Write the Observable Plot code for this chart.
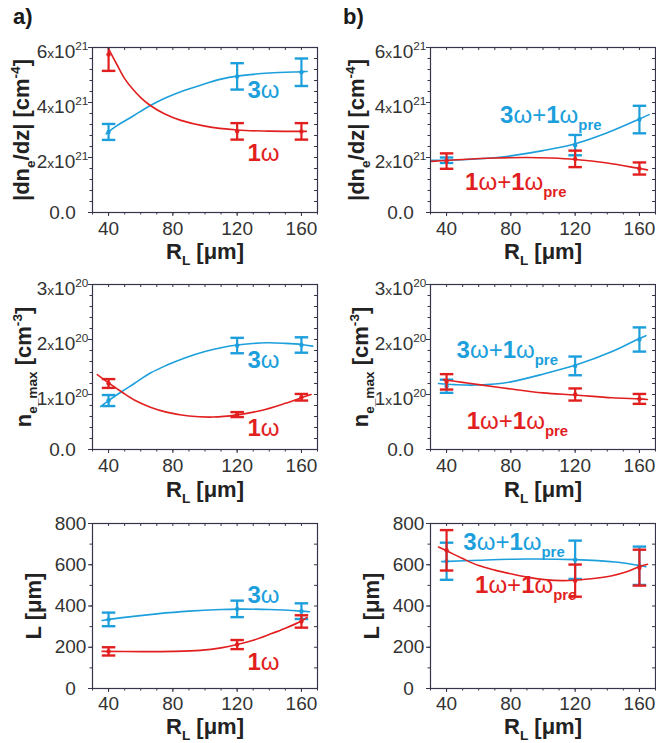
<!DOCTYPE html>
<html><head><meta charset="utf-8">
<script src="https://cdn.jsdelivr.net/npm/d3@7"></script>
<script src="https://cdn.jsdelivr.net/npm/@observablehq/plot@0.6"></script>
<style>
body{margin:0;background:#fff;font-family:"Liberation Sans",Arial,sans-serif;}
#wrap{position:relative;width:656px;height:743px;overflow:hidden;background:#fff;}
.panel{position:absolute;}
.tag{position:absolute;font:bold 22px "Liberation Sans",Arial,sans-serif;line-height:22px;color:#1a1a1a;}
</style></head><body><div id="wrap"><div class="tag" style="left:13px;top:6px">a)</div><div class="tag" style="left:343px;top:6px">b)</div></div>
<script>
// ---------------- DATA ----------------
const R = [40, 120, 160];            // laser spot radius R_L [µm]
const xMajor = [40, 80, 120, 160];
const xLabels = ["40", "80", "120", "160"];

// Row 1: |dn_e/dz| in units of 1e21 cm^-4
const yMajor1 = [0, 2, 4, 6];
const yLabels1 = ["0.0", "2.{x}10^{21}", "4.{x}10^{21}", "6.{x}10^{21}"];
const dndz_1w = [5.75, 2.95, 2.95], dndz_1w_err = [0.6, 0.3, 0.3];
const dndz_3w = [2.93, 4.95, 5.10], dndz_3w_err = [0.29, 0.48, 0.5];
const dndz_1wp = [1.87, 1.95, 1.60], dndz_1wp_err = [0.28, 0.3, 0.22];
const dndz_3wp = [1.90, 2.45, 3.38], dndz_3wp_err = [0.1, 0.37, 0.5];
const fit_dndz_1w = [[40,5.95],[45,5.4],[50,4.87],[55,4.49],[60,4.18],[66,3.89],[75,3.58],[85,3.35],[100,3.14],[120,3.0],[140,2.96],[163,2.95]];
const fit_dndz_3w = [[38.5,2.86],[45,3.15],[55,3.5],[66,3.89],[76,4.18],[87,4.44],[100,4.68],[110,4.85],[120,4.96],[140,5.07],[160,5.12],[163.5,5.13]];
const fit_dndz_1wp = [[30.7,1.86],[50,1.93],[70,1.98],[90,2.0],[105,1.98],[120,1.93],[140,1.8],[160,1.6],[165,1.55]];
const fit_dndz_3wp = [[30.7,1.9],[50,1.92],[70,1.99],[80,2.06],[100,2.25],[120,2.5],[140,2.9],[160,3.4],[166,3.56]];

// Row 2: n_e_max in units of 1e20 cm^-3
const yMajor2 = [0, 1, 2, 3];
const yLabels2 = ["0.0", "1.{x}10^{20}", "2.{x}10^{20}", "3.{x}10^{20}"];
const ne_1w = [1.20, 0.635, 0.95], ne_1w_err = [0.08, 0.045, 0.06];
const ne_3w = [0.89, 1.89, 1.90], ne_3w_err = [0.1, 0.14, 0.14];
const ne_1wp = [1.23, 1.00, 0.92], ne_1wp_err = [0.14, 0.11, 0.09];
const ne_3wp = [1.15, 1.52, 2.00], ne_3wp_err = [0.12, 0.17, 0.22];
const fit_ne_1w = [[33,1.36],[40,1.21],[48,1.05],[56,0.9],[66,0.77],[76,0.68],[90,0.61],[105,0.59],[120,0.63],[135,0.71],[150,0.84],[160,0.94],[166,1.0]];
const fit_ne_3w = [[35,0.78],[40,0.89],[48,1.05],[56,1.2],[66,1.39],[76,1.53],[87,1.66],[100,1.78],[110,1.85],[120,1.9],[138,1.94],[150,1.93],[160,1.91],[167,1.88]];
const fit_ne_1wp = [[38,1.27],[50,1.22],[60,1.18],[80,1.1],[100,1.03],[120,0.99],[143,0.94],[160,0.92],[165,0.91]];
const fit_ne_3wp = [[35,1.2],[45,1.18],[55,1.17],[70,1.19],[80,1.23],[100,1.37],[120,1.53],[143,1.78],[160,2.02],[164,2.07]];

// Row 3: L [µm]
const yMajor3 = [0, 200, 400, 600, 800];
const yLabels3 = ["0", "200", "400", "600", "800"];
const L_1w = [180, 213, 325], L_1w_err = [20, 22, 30];
const L_3w = [335, 386, 375], L_3w_err = [33, 40, 38];
const L_1wp = [670, 523, 586], L_1wp_err = [98, 78, 87];
const L_3wp = [617, 624, 595], L_3wp_err = [90, 93, 93];
const fit_L_1w = [[36,180],[60,179],[80,180],[97,185],[110,197],[120,213],[130,234],[140,262],[150,292],[160,327],[163.5,345]];
const fit_L_3w = [[36,330],[50,345],[70,362],[90,375],[110,383],[120,385],[140,383],[160,375],[165,372]];
const fit_L_1wp = [[35,686],[40,668],[50,630],[60,596],[70,574],[80,556],[90,540],[101,528],[112,523],[120,525],[130,532],[143,547],[152,566],[160,591],[165,602]];
const fit_L_3wp = [[37,615],[60,622],[90,628],[120,625],[145,613],[160,596],[164,590]];

// Series labels and where they sit (data coordinates)
const lab1w = "!{1}ω", lab3w = "!{3}ω";
const lab1wp = "!{1}ω+!{1}ω_!{pre}", lab3wp = "!{3}ω+!{1}ω_!{pre}";
const notesA1 = [[126.4, 4.45, lab3w, "b"], [126.4, 2.15, lab1w, "r"]];
const notesB1 = [[73.3, 3.54, lab3wp, "b"], [51.5, 1.10, lab1wp, "r"]];
const notesA2 = [[126.4, 1.62, lab3w, "b"], [126.4, 0.38, lab1w, "r"]];
const notesB2 = [[46.2, 1.81, lab3wp, "b"], [52.5, 0.51, lab1wp, "r"]];
const notesA3 = [[126.4, 451, lab3w, "b"], [126.4, 129, lab1w, "r"]];
const notesB3 = [[50.4, 710, lab3wp, "b"], [57.7, 500, lab1wp, "r"]];

const xTitle = "R_{L} [μm]";
const yTitles = ["|dn_{e}/dz| [cm^{-4}]", "n_{e_max} [cm^{-3}]", "L [μm]"];

// ---------------- STYLE ----------------
const BLUE = "#1d9fdc", RED = "#e21f1f", FRAME = "#34344a", TXT = "#333";
const FONT = "Liberation Sans, Arial, sans-serif";

function rows(v, e) { return R.map((x, i) => ({x, y: v[i], lo: v[i] - e[i], hi: v[i] + e[i]})); }

function seriesMarks(v, e, fit, color) {
  const d = rows(v, e), cap = 4.2;
  return [
    Plot.line(fit, {x: p => p[0], y: p => p[1], stroke: color, strokeWidth: 1.6, curve: "catmull-rom", clip: true}),
    Plot.ruleX(d, {x: "x", y1: "lo", y2: "hi", stroke: color, strokeWidth: 2.2, clip: true}),
    Plot.link(d, {x1: p => p.x - cap, x2: p => p.x + cap, y1: "lo", y2: "lo", stroke: color, strokeWidth: 2.4, clip: true}),
    Plot.link(d, {x1: p => p.x - cap, x2: p => p.x + cap, y1: "hi", y2: "hi", stroke: color, strokeWidth: 2.4, clip: true}),
    Plot.dot(d, {x: "x", y: "y", r: 2.2, fill: color})
  ];
}

function panel(o) {
  const W = 328, H = 232, mt = 12, mb = 55;
  const pw = W - o.ml - o.mr, ph = H - mt - mb;
  const xMinor = d3.range(30, 171, 10);
  const yAll = d3.range(o.yDomain[0], o.yDomain[1] + o.yStep / 2, o.yStep);
  const marks = [
    ...seriesMarks(...o.blue, BLUE),
    ...seriesMarks(...o.red, RED),
    Plot.text(o.notes, {x: n => n[0], y: n => n[1], text: n => n[2], fill: n => n[3] === "b" ? BLUE : RED,
      textAnchor: "start", lineAnchor: "middle", fontSize: 24}),
    Plot.frame({stroke: FRAME, strokeWidth: 1.2}),
    Plot.axisX({ticks: xMajor, anchor: "bottom", tickSize: 4, tickPadding: o.xpad, fontSize: 19, stroke: FRAME, fill: TXT,
      tickFormat: d => xLabels[xMajor.indexOf(d)], label: null}),
    Plot.axisX({ticks: xMinor, anchor: "bottom", tickSize: 2.5, stroke: FRAME, fill: "none", label: null}),
    Plot.axisY({ticks: o.yMajor, anchor: "left", tickSize: 4, tickPadding: o.pad, textAnchor: "middle", fontSize: 19,
      stroke: FRAME, fill: TXT, tickFormat: d => o.yLabels[o.yMajor.indexOf(d)], label: null}),
    Plot.axisY({ticks: yAll, anchor: "left", tickSize: 2.5, stroke: FRAME, fill: "none", label: null}),
    Plot.ruleX(xMinor, {x: d => d, insetBottom: ph - 3, stroke: FRAME, strokeWidth: 1}),
    Plot.ruleY(yAll, {y: d => d, insetLeft: pw - 3, stroke: FRAME, strokeWidth: 1}),
    Plot.text([xTitle], {frameAnchor: "bottom", dy: o.xdy, text: d => d, fontSize: 22, fontWeight: "bold", fill: "#222",
      textAnchor: "middle", lineAnchor: "middle"}),
    Plot.text([o.yTitle], {frameAnchor: "left", dx: o.ydx, rotate: -90, text: d => d, fontSize: 22, fontWeight: "bold", fill: "#222",
      textAnchor: "middle", lineAnchor: "middle"})
  ];
  const svg = Plot.plot({
    width: W, height: H, marginLeft: o.ml, marginRight: o.mr, marginTop: mt, marginBottom: mb,
    x: {domain: [30, 170]}, y: {domain: o.yDomain},
    style: {fontFamily: FONT, background: "transparent", overflow: "visible"},
    marks
  });
  const div = document.createElement("div");
  div.className = "panel";
  div.style.left = o.left + "px";
  div.style.top = o.top + "px";
  div.appendChild(svg);
  document.getElementById("wrap").appendChild(div);
  applyRich(svg);
}

function parseRich(s) {
  const segs = []; let buf = "", i = 0;
  while (i < s.length) {
    let j = i;
    while (j < s.length && "^_!.".includes(s[j])) j++;
    if (j > i && s[j] === "{") {
      const k = s.indexOf("}", j);
      if (buf) { segs.push({t: buf, f: ""}); buf = ""; }
      segs.push({t: s.slice(j + 1, k), f: s.slice(i, j)});
      i = k + 1;
    } else { buf += s[i]; i++; }
  }
  if (buf) segs.push({t: buf, f: ""});
  return segs;
}

function applyRich(svg) {
  svg.querySelectorAll("text").forEach(el => {
    const s = el.textContent;
    if (!/[\^_!.]+\{/.test(s)) return;
    const segs = parseRich(s);
    const F = parseFloat(getComputedStyle(el).fontSize) || 16;
    const isTick = !!el.closest('[aria-label="y-axis tick label"]');
    const shift = isTick && segs.some(g => g.f.includes("^")) ? 4 : 0;
    el.textContent = "";
    let off = 0, first = true;
    segs.forEach(g => {
      const ts = document.createElementNS("http://www.w3.org/2000/svg", "tspan");
      let target = 0, size = null;
      if (g.f.includes("^")) { target = -0.4 * F; size = 0.62 * F; }
      else if (g.f.includes("_")) { target = 0.3 * F; size = 0.62 * F; }
      if (g.f.includes(".")) size = 0.72 * F;
      if (g.f.includes("!")) ts.setAttribute("font-weight", "bold");
      if (size) ts.setAttribute("font-size", size);
      const dy = target - off + (first ? shift : 0);
      if (dy) ts.setAttribute("dy", dy);
      off = target; first = false;
      ts.textContent = g.t;
      el.appendChild(ts);
    });
  });
}

const colA = {left: 0, ml: 92, mr: 11};
const colB = {left: 328, ml: 102, mr: 1};
const row1 = {top: 35, yDomain: [0, 6], yStep: 0.4, yMajor: yMajor1, yLabels: yLabels1, pad: 26, xpad: 5, xdy: 39, yTitle: yTitles[0]};
const row2 = {top: 272, yDomain: [0, 3], yStep: 0.2, yMajor: yMajor2, yLabels: yLabels2, pad: 26, xpad: 5, xdy: 40, yTitle: yTitles[1]};
const row3 = {top: 511, yDomain: [0, 800], yStep: 100, yMajor: yMajor3, yLabels: yLabels3, pad: 18, xpad: 4, xdy: 38, yTitle: yTitles[2]};

panel({...colA, ...row1, ydx: -71, notes: notesA1,
  blue: [dndz_3w, dndz_3w_err, fit_dndz_3w], red: [dndz_1w, dndz_1w_err, fit_dndz_1w]});
panel({...colB, ...row1, ydx: -74, notes: notesB1,
  blue: [dndz_3wp, dndz_3wp_err, fit_dndz_3wp], red: [dndz_1wp, dndz_1wp_err, fit_dndz_1wp]});
panel({...colA, ...row2, ydx: -69, notes: notesA2,
  blue: [ne_3w, ne_3w_err, fit_ne_3w], red: [ne_1w, ne_1w_err, fit_ne_1w]});
panel({...colB, ...row2, ydx: -70, notes: notesB2,
  blue: [ne_3wp, ne_3wp_err, fit_ne_3wp], red: [ne_1wp, ne_1wp_err, fit_ne_1wp]});
panel({...colA, ...row3, ydx: -58.5, notes: notesA3,
  blue: [L_3w, L_3w_err, fit_L_3w], red: [L_1w, L_1w_err, fit_L_1w]});
panel({...colB, ...row3, ydx: -58.5, notes: notesB3,
  blue: [L_3wp, L_3wp_err, fit_L_3wp], red: [L_1wp, L_1wp_err, fit_L_1wp]});
</script></body></html>
